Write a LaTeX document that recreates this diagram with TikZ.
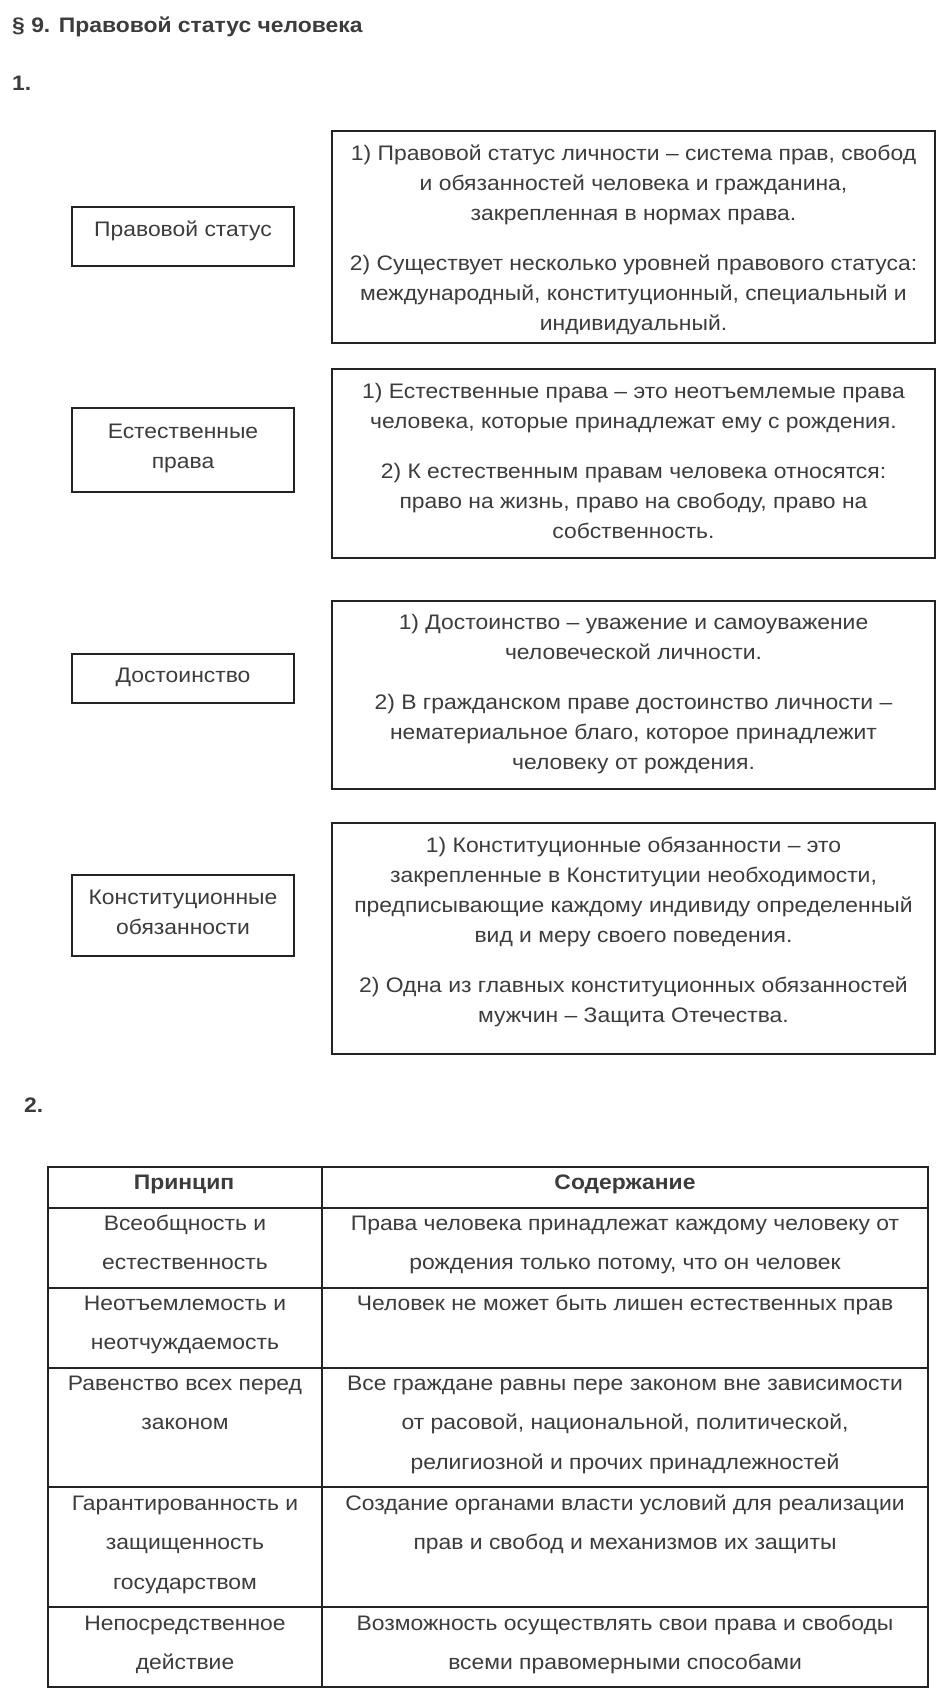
\documentclass[tikz,border=0pt]{standalone}
\usepackage{fontspec}
\setmainfont{Liberation Sans}[FakeStretch=1.09]
\definecolor{textc}{RGB}{60,60,60}
\definecolor{linec}{RGB}{35,35,35}
\begin{document}
\begin{tikzpicture}[x=1pt,y=-1pt,
  bx/.style={draw=linec, line width=2.5pt, inner sep=0pt},
  tl/.style={draw=linec, line width=1.2pt},
  tb/.style={inner sep=0pt, anchor=north, align=center, text=textc, font=\fontsize{21}{30}\selectfont},
  tt/.style={inner sep=0pt, anchor=north, align=center, text=textc, font=\fontsize{21}{39.6}\selectfont},
  hd/.style={inner sep=0pt, anchor=base west, text=textc, font=\fontsize{21}{24}\selectfont\bfseries},
]
\useasboundingbox[fill=white] (0,0) rectangle (944,1696);

% headings
\node[hd] (title) at (12,33) {§ 9. Правовой статус человека};
\node[hd] (num1) at (12,91) {1.};
\node[hd] (num2) at (24,1112) {2.};

% left boxes
\node[bx, minimum width=222pt, minimum height=59pt] (la) at (183,236.5) {};
\node[bx, minimum width=222pt, minimum height=84pt] (lb) at (183,450) {};
\node[bx, minimum width=222pt, minimum height=49pt] (lc) at (183,678.5) {};
\node[bx, minimum width=222pt, minimum height=81pt] (ld) at (183,915.5) {};
% right boxes
\node[bx, minimum width=603pt, minimum height=212pt] (ra) at (633.5,237) {};
\node[bx, minimum width=603pt, minimum height=189pt] (rb) at (633.5,463.5) {};
\node[bx, minimum width=603pt, minimum height=188pt] (rc) at (633.5,695) {};
\node[bx, minimum width=603pt, minimum height=231pt] (rd) at (633.5,938.5) {};

% left texts
\node[tb] (tla) at (183,215) {\strut Правовой статус};
\node[tb] (tlb) at (183,417) {\strut Естественные\\\strut права};
\node[tb] (tlc) at (183,661) {\strut Достоинство};
\node[tb] (tld) at (183,883) {\strut Конституционные\\\strut обязанности};

% right texts
\node[tb] (tra) at (633.5,139) {\strut 1) Правовой статус личности – система прав, свобод\\
\strut и обязанностей человека и гражданина,\\
\strut закрепленная в нормах права.\\[20pt]
\strut 2) Существует несколько уровней правового статуса:\\
\strut международный, конституционный, специальный и\\
\strut индивидуальный.};
\node[tb] (trb) at (633.5,377) {\strut 1) Естественные права – это неотъемлемые права\\
\strut человека, которые принадлежат ему с рождения.\\[20pt]
\strut 2) К естественным правам человека относятся:\\
\strut право на жизнь, право на свободу, право на\\
\strut собственность.};
\node[tb] (trc) at (633.5,608) {\strut 1) Достоинство – уважение и самоуважение\\
\strut человеческой личности.\\[20pt]
\strut 2) В гражданском праве достоинство личности –\\
\strut нематериальное благо, которое принадлежит\\
\strut человеку от рождения.};
\node[tb] (trd) at (633.5,831) {\strut 1) Конституционные обязанности – это\\
\strut закрепленные в Конституции необходимости,\\
\strut предписывающие каждому индивиду определенный\\
\strut вид и меру своего поведения.\\[20pt]
\strut 2) Одна из главных конституционных обязанностей\\
\strut мужчин – Защита Отечества.};

% table
\draw[tl] (48,1167) rectangle (928,1687);
\draw[tl] (322,1167) -- (322,1687);
\foreach \yy in {1208,1288,1368,1487,1607} \draw[tl] (48,\yy) -- (928,\yy);

\node[tt, font=\fontsize{21}{39.6}\selectfont\bfseries] (h1) at (184,1161.3) {\strut Принцип};
\node[tt, font=\fontsize{21}{39.6}\selectfont\bfseries] (h2) at (625,1161.3) {\strut Содержание};

\node[tt] (p1) at (185,1202.3) {\strut Всеобщность и\\\strut естественность};
\node[tt] (c1) at (625,1202.3) {\strut Права человека принадлежат каждому человеку от\\\strut рождения только потому, что он человек};
\node[tt] (p2) at (185,1282.3) {\strut Неотъемлемость и\\\strut неотчуждаемость};
\node[tt] (c2) at (625,1282.3) {\strut Человек не может быть лишен естественных прав};
\node[tt] (p3) at (185,1362.3) {\strut Равенство всех перед\\\strut законом};
\node[tt] (c3) at (625,1362.3) {\strut Все граждане равны пере законом вне зависимости\\\strut от расовой, национальной, политической,\\\strut религиозной и прочих принадлежностей};
\node[tt] (p4) at (185,1482.3) {\strut Гарантированность и\\\strut защищенность\\\strut государством};
\node[tt] (c4) at (625,1482.3) {\strut Создание органами власти условий для реализации\\\strut прав и свобод и механизмов их защиты};
\node[tt] (p5) at (185,1602.3) {\strut Непосредственное\\\strut действие};
\node[tt] (c5) at (625,1602.3) {\strut Возможность осуществлять свои права и свободы\\\strut всеми правомерными способами};
\end{tikzpicture}
\end{document}
